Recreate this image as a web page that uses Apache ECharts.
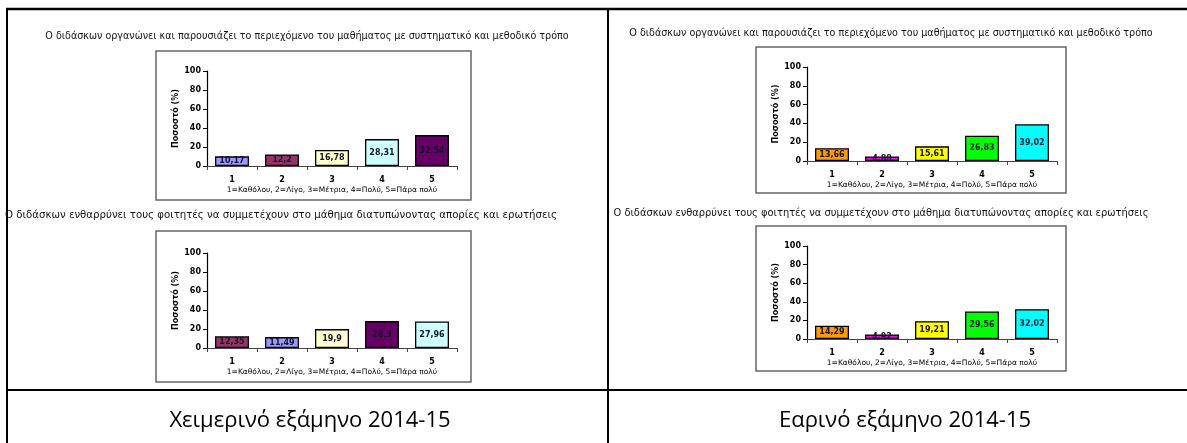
<!DOCTYPE html>
<html>
<head>
<meta charset="utf-8">
<script src="https://cdn.jsdelivr.net/npm/echarts@6/dist/echarts.min.js"></script>
<style>
html,body{margin:0;padding:0;background:#fff;}
#c{width:1187px;height:443px;}
</style>
</head>
<body>
<div id="c"></div>
<script>
// ---- data ----
const categories = ['1', '2', '3', '4', '5'];
const yTickValues = [0, 20, 40, 60, 80, 100];
const winterOrganizes = [10.17, 12.2, 16.78, 28.31, 32.54];
const winterEncourages = [12.35, 11.49, 19.9, 28.3, 27.96];
const springOrganizes = [13.66, 4.88, 15.61, 26.83, 39.02];
const springEncourages = [14.29, 4.92, 19.21, 29.56, 32.02];

const titleOrganizes = 'Ο διδάσκων οργανώνει και παρουσιάζει το περιεχόμενο του μαθήματος με συστηματικό και μεθοδικό τρόπο';
const titleEncourages = 'Ο διδάσκων ενθαρρύνει τους φοιτητές να συμμετέχουν στο μάθημα διατυπώνοντας απορίες και ερωτήσεις';
const xAxisTitle = '1=Καθόλου, 2=Λίγο, 3=Μέτρια, 4=Πολύ, 5=Πάρα πολύ';
const yAxisTitle = 'Ποσοστό (%)';
const captionWinter = 'Χειμερινό εξάμηνο 2014-15';
const captionSpring = 'Εαρινό εξάμηνο 2014-15';

// ---- styles ----
const colorsWinterOrg = ['#9999FF', '#993366', '#FFFFCC', '#CCFFFF', '#660066'];
const colorsWinterEnc = ['#993366', '#9999FF', '#FFFFCC', '#660066', '#CCFFFF'];
const colorsSpring = ['#FF9900', '#FF00FF', '#FFFF00', '#00FF00', '#00FFFF'];

const FONT = 'DejaVu Sans';
const charts = [
  {data: winterOrganizes, colors: colorsWinterOrg, grid: {left: 207, top: 71, width: 250, height: 95}, box: [156, 51, 315, 149], title: titleOrganizes, tx: 307, ty: 36, tf: 9.6},
  {data: winterEncourages, colors: colorsWinterEnc, grid: {left: 207, top: 253, width: 250, height: 95}, box: [156, 231, 315, 151], title: titleEncourages, tx: 281, ty: 215, tf: 10.2},
  {data: springOrganizes, colors: colorsSpring, grid: {left: 807, top: 67, width: 250, height: 94}, box: [756, 47, 310, 146], title: titleOrganizes, tx: 891, ty: 33, tf: 9.6},
  {data: springEncourages, colors: colorsSpring, grid: {left: 807, top: 246, width: 250, height: 93}, box: [756, 226, 310, 145], title: titleEncourages, tx: 881, ty: 213, tf: 9.9}
];

const fmt = v => String(v).replace('.', ',');

const grids = [], xAxes = [], yAxes = [], series = [], graphics = [];

// table lines
const lineStyle = {stroke: '#000', lineWidth: 2};
graphics.push({type: 'line', shape: {x1: 6, y1: 9, x2: 1187, y2: 9}, style: {stroke: '#000', lineWidth: 2.5}});
graphics.push({type: 'line', shape: {x1: 7, y1: 8, x2: 7, y2: 443}, style: lineStyle});
graphics.push({type: 'line', shape: {x1: 608, y1: 8, x2: 608, y2: 443}, style: lineStyle});
graphics.push({type: 'line', shape: {x1: 6, y1: 390, x2: 1187, y2: 390}, style: lineStyle});

graphics.push({type: 'text', x: 310, y: 421, style: {text: captionWinter, font: '22px "Open Sans"', fill: '#000', align: 'center', verticalAlign: 'middle'}});
graphics.push({type: 'text', x: 905, y: 421, style: {text: captionSpring, font: '22px "Open Sans"', fill: '#000', align: 'center', verticalAlign: 'middle'}});

charts.forEach((c, i) => {
  grids.push(Object.assign({containLabel: false}, c.grid));
  graphics.push({type: 'rect', shape: {x: c.box[0], y: c.box[1], width: c.box[2], height: c.box[3]}, style: {fill: 'none', stroke: '#666', lineWidth: 1.5}, z: -1});
  graphics.push({type: 'text', x: c.tx, y: c.ty, style: {text: c.title, font: c.tf + 'px "' + FONT + '"', fill: '#111', align: 'center', verticalAlign: 'middle'}});
  xAxes.push({
    type: 'category', gridIndex: i, data: categories,
    name: xAxisTitle, nameLocation: 'middle', nameGap: 20,
    nameTextStyle: {fontFamily: FONT, fontSize: 7.5, color: '#000'},
    axisLine: {lineStyle: {color: '#444', width: 1.2}},
    axisTick: {show: true, alignWithLabel: false, length: 4, lineStyle: {color: '#444'}},
    axisLabel: {fontFamily: FONT, fontSize: 8, fontWeight: 'bold', color: '#000', margin: 10},
    splitLine: {show: false}
  });
  yAxes.push({
    type: 'value', gridIndex: i, min: yTickValues[0], max: yTickValues[yTickValues.length - 1], interval: yTickValues[1] - yTickValues[0],
    name: yAxisTitle, nameLocation: 'middle', nameGap: 25, nameRotate: 90,
    nameTextStyle: {fontFamily: FONT, fontSize: 8, fontWeight: 'bold', color: '#000'},
    axisLine: {show: true, lineStyle: {color: '#000', width: 1.2}},
    axisTick: {show: true, length: 4, lineStyle: {color: '#000'}},
    axisLabel: {fontFamily: FONT, fontSize: 8, fontWeight: 'bold', color: '#000', margin: 6},
    splitLine: {show: false}
  });
  series.push({
    type: 'bar', xAxisIndex: i, yAxisIndex: i,
    data: c.data.map((v, k) => ({value: v, itemStyle: {color: c.colors[k]}})),
    barCategoryGap: '32%',
    itemStyle: {borderColor: '#000', borderWidth: 1.3},
    label: {show: true, position: 'inside', formatter: p => fmt(p.value), fontFamily: FONT, fontSize: 8, fontWeight: 'bold', color: '#14142e'},
    silent: true, animation: false
  });
});

const chart = echarts.init(document.getElementById('c'), null, {renderer: 'canvas'});
chart.setOption({
  animation: false,
  grid: grids, xAxis: xAxes, yAxis: yAxes, series: series,
  graphic: graphics
});
</script>
</body>
</html>
